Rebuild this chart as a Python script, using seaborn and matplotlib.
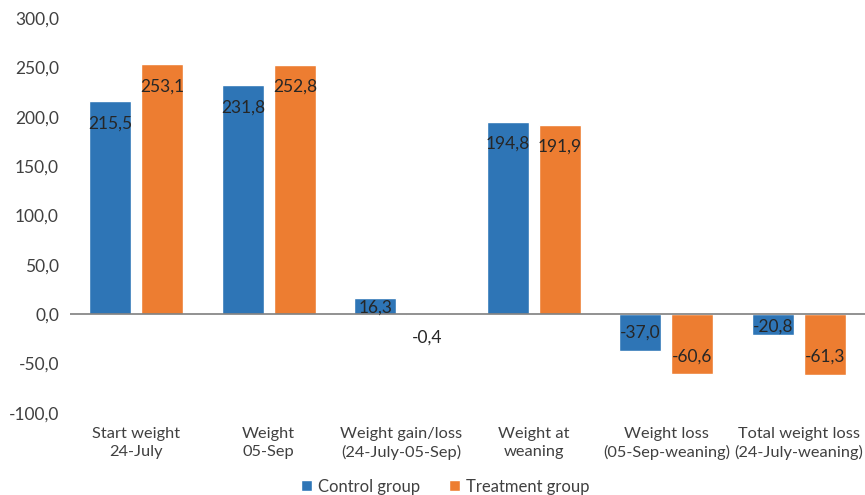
import matplotlib
matplotlib.use("Agg")
import matplotlib.pyplot as plt
import seaborn as sns
import pandas as pd
from matplotlib.ticker import FuncFormatter, MultipleLocator

categories = ["Start weight\n24-July", "Weight\n05-Sep", "Weight gain/loss\n(24-July-05-Sep)",
              "Weight at\nweaning", "Weight loss\n(05-Sep-weaning)", "Total weight loss\n(24-July-weaning)"]
control = [215.5, 231.8, 16.3, 194.8, -37.0, -20.8]
treatment = [253.1, 252.8, -0.4, 191.9, -60.6, -61.3]
groups = ["Control group", "Treatment group"]
colors = ["#2E75B6", "#ED7D31"]

df = pd.DataFrame({
    "category": categories * 2,
    "value": control + treatment,
    "group": [groups[0]] * len(categories) + [groups[1]] * len(categories),
})

sns.set_theme(style="white")
plt.rcParams["font.family"] = ["Lato", "DejaVu Sans"]

FS = 12.5
fig = plt.figure(figsize=(8.65, 4.95), dpi=100)
ax = fig.add_axes([0.081, 0.1657, 0.919, 0.798])

sns.barplot(data=df, x="category", y="value", hue="group", order=categories,
            hue_order=groups, palette=colors, width=0.785, gap=0.19,
            saturation=1, ax=ax, legend=True)

ax.set_ylim(-100, 300)
ax.yaxis.set_major_locator(MultipleLocator(50))
ax.yaxis.set_major_formatter(FuncFormatter(lambda v, p: f"{v:.1f}".replace(".", ",")))
ax.set_xlabel("")
ax.set_ylabel("")
for s in ax.spines.values():
    s.set_visible(False)
ax.axhline(0, color="#7f7f7f", lw=1.2, zorder=5)
ax.tick_params(axis="y", length=0, labelsize=FS, colors="#404040", pad=8)
ax.tick_params(axis="x", length=0, labelsize=11.8, colors="#404040", pad=10)
for lbl in ax.get_xticklabels():
    lbl.set_linespacing(1.35)
ax.grid(False)

for cont in ax.containers:
    for bar in cont:
        h = bar.get_height()
        x = bar.get_x() + bar.get_width() / 2
        txt = f"{h:.1f}".replace(".", ",")
        if abs(h) < 5:
            ax.annotate(txt, (x, h), xytext=(0, -11), textcoords="offset points",
                        ha="center", va="top", fontsize=FS, color="#262626")
        elif h > 0:
            off = -10 if h > 30 else -1
            ax.annotate(txt, (x, h), xytext=(0, off), textcoords="offset points",
                        ha="center", va="top", fontsize=FS, color="#262626", zorder=6)
        else:
            off = 7 if h < -30 else 0
            ax.annotate(txt, (x, h), xytext=(0, off), textcoords="offset points",
                        ha="center", va="bottom", fontsize=FS, color="#262626", zorder=6)

ax.legend(loc="lower center", bbox_to_anchor=(0.472, -0.245), ncol=2, frameon=False,
          fontsize=12, handlelength=0.65, handleheight=0.65, handletextpad=0.4,
          columnspacing=1.7, labelcolor="#404040")

fig.savefig("out.png", dpi=100)
